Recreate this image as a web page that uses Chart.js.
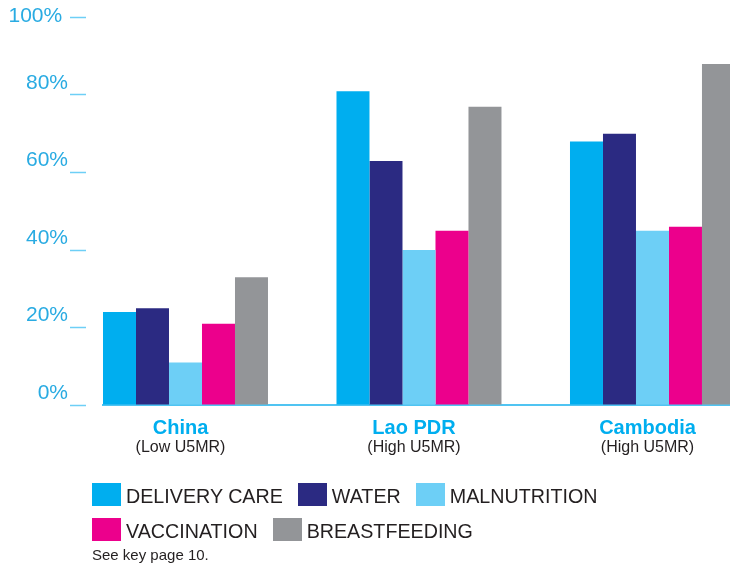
<!DOCTYPE html>
<html>
<head>
<meta charset="utf-8">
<script src="https://cdn.jsdelivr.net/npm/chart.js@4/dist/chart.umd.min.js"></script>
<style>
  html, body { margin: 0; padding: 0; background: #ffffff; }
  #wrap { position: relative; width: 730px; height: 567px; overflow: hidden; font-family: 'Liberation Sans', Arial, sans-serif; }
  canvas { position: absolute; left: 0; top: 0; }
  #legend { position: absolute; left: 92px; top: 482px; width: 540px; display: flex; flex-wrap: wrap; }
  .item { display: flex; align-items: center; height: 24px; margin: 0 15px 11px 0; }
  .sw { width: 29px; height: 23px; margin-right: 5px; }
  .lt { font-size: 19.7px; color: #231f20; line-height: 24px; padding-top: 3px; white-space: nowrap; }
  #note { position: absolute; left: 92px; top: 547px; font-size: 15px; line-height: 16px; color: #231f20; }
</style>
</head>
<body>
<div id="wrap">
  <canvas id="c" width="730" height="567"></canvas>
  <div id="legend"></div>
  <div id="note">See key page 10.</div>
</div>
<script>
// ---- data ----
const categories = ['China', 'Lao PDR', 'Cambodia'];
const subtitles = ['(Low U5MR)', '(High U5MR)', '(High U5MR)'];
const seriesNames = ['DELIVERY CARE', 'WATER', 'MALNUTRITION', 'VACCINATION', 'BREASTFEEDING'];
const deliveryCare = [24, 81, 68];
const water = [25, 63, 70];
const malnutrition = [11, 40, 45];
const vaccination = [21, 45, 46];
const breastfeeding = [33, 77, 88];
const yTickValues = [0, 20, 40, 60, 80, 100];

// ---- styles ----
const seriesColors = ['#00aeef', '#2b2a82', '#6dcff6', '#ec008c', '#939598'];
const seriesValues = [deliveryCare, water, malnutrition, vaccination, breastfeeding];

Chart.defaults.font.family = "'Liberation Sans', Arial, sans-serif";

const datasets = seriesNames.map((name, s) => ({
  label: name,
  data: seriesValues[s].map((v, i) => ({ x: i, y: v })),
  backgroundColor: seriesColors[s],
  borderWidth: 0,
  categoryPercentage: 0.7066,
  barPercentage: 1
}));

const X_MIN = -0.3533, X_MAX = 2.332;
const categoryTicks = (s) => { s.ticks = categories.map((_, i) => ({ value: i })); };

new Chart(document.getElementById('c'), {
  type: 'bar',
  data: { datasets },
  options: {
    responsive: false,
    animation: false,
    layout: { padding: { top: 17.5, left: 0, right: 0, bottom: 108.5 } },
    plugins: { legend: { display: false }, tooltip: { enabled: false } },
    scales: {
      x: {
        type: 'linear',
        position: 'bottom',
        weight: 0,
        offset: false,
        min: X_MIN, max: X_MAX,
        bounds: 'data',
        afterBuildTicks: categoryTicks,
        grid: { display: false, drawTicks: false, offset: false },
        border: { display: true, color: '#50c4f2', width: 2 },
        ticks: {
          autoSkip: false,
          maxRotation: 0,
          padding: 13.5,
          labelOffset: -5,
          color: '#00aeef',
          font: { size: 20, weight: 'bold', lineHeight: 1 },
          callback: (v) => categories[Math.round(v)] ?? ''
        },
        afterFit: (s) => { s.height = 33.5; s.paddingLeft = 0; s.paddingRight = 0; }
      },
      x2: {
        type: 'linear',
        position: 'bottom',
        weight: 1,
        offset: false,
        min: X_MIN, max: X_MAX,
        bounds: 'data',
        afterBuildTicks: categoryTicks,
        grid: { display: false, drawTicks: false, offset: false },
        border: { display: false },
        ticks: {
          autoSkip: false,
          maxRotation: 0,
          padding: 1.5,
          labelOffset: -5,
          color: '#231f20',
          font: { size: 16, lineHeight: 1 },
          callback: (v) => subtitles[Math.round(v)] ?? ''
        },
        afterFit: (s) => { s.height = 20; s.paddingLeft = 0; s.paddingRight = 0; }
      },
      y: {
        min: yTickValues[0],
        max: yTickValues[yTickValues.length - 1],
        grid: {
          display: true,
          drawOnChartArea: false,
          drawTicks: true,
          tickLength: 33,
          tickColor: '#6dcff6',
          tickWidth: 1.5,
          tickBorderDash: [16, 100]
        },
        border: { display: false },
        ticks: {
          stepSize: 20,
          padding: 2,
          labelOffset: -12,
          color: '#29abe2',
          font: { size: 21, lineHeight: 1 },
          callback: (v) => v === 100 ? ['', v + '% '] : v + '%'
        },
        afterFit: (s) => { s.width = 103; s.paddingTop = 0; s.paddingBottom = 0; }
      }
    }
  }
});

// ---- HTML legend built from the series arrays ----
const legend = document.getElementById('legend');
seriesNames.forEach((name, s) => {
  const item = document.createElement('div');
  item.className = 'item';
  const sw = document.createElement('span');
  sw.className = 'sw';
  sw.style.background = seriesColors[s];
  const lt = document.createElement('span');
  lt.className = 'lt';
  lt.textContent = name;
  item.appendChild(sw);
  item.appendChild(lt);
  legend.appendChild(item);
});
</script>
</body>
</html>
